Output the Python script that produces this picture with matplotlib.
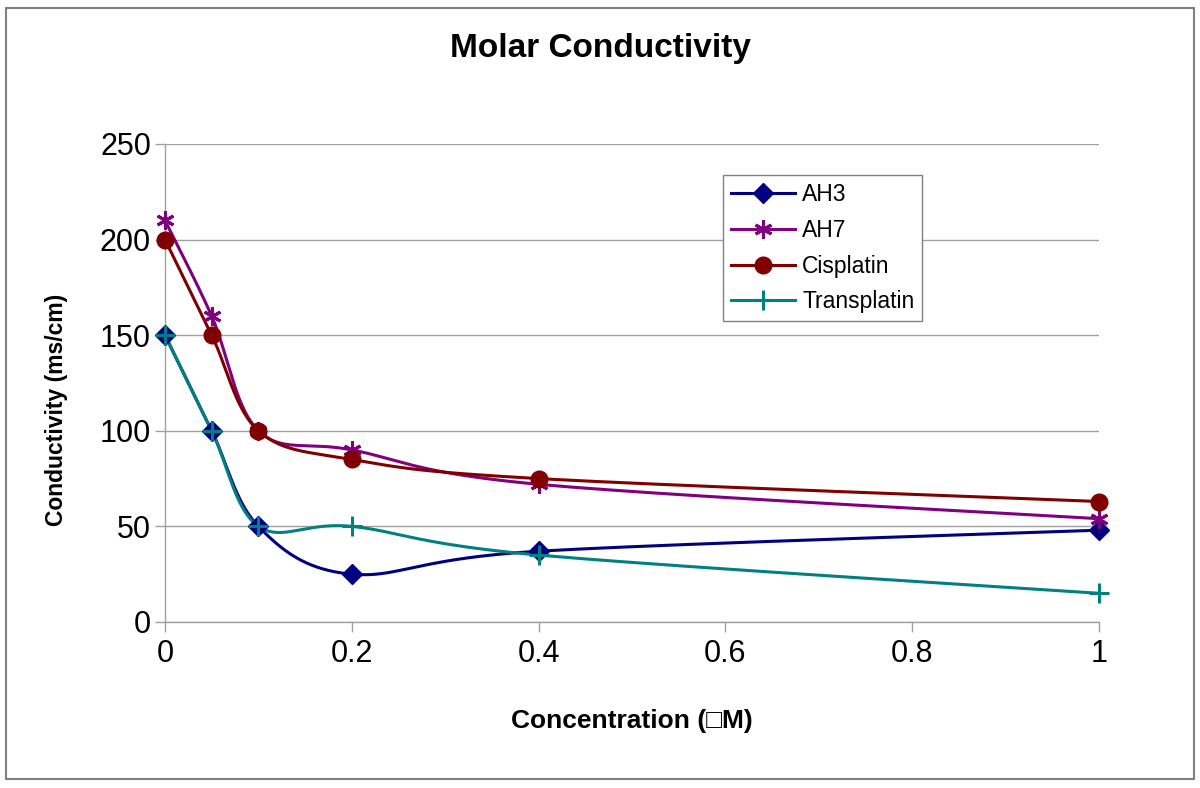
import numpy as np
import matplotlib
matplotlib.use("Agg")
from matplotlib import pyplot as plt
from matplotlib.patches import Rectangle

plt.rcParams['font.family'] = ['Liberation Sans', 'DejaVu Sans']

concentration = [0, 0.05, 0.1, 0.2, 0.4, 1]
ah3 = [150, 100, 50, 25, 37, 48]
ah7 = [210, 160, 100, 90, 72, 54]
cisplatin = [200, 150, 100, 85, 75, 63]
transplatin = [150, 100, 50, 50, 35, 15]

x_ticks = [0, 0.2, 0.4, 0.6, 0.8, 1]
x_tick_labels = ['0', '0.2', '0.4', '0.6', '0.8', '1']
y_ticks = [0, 50, 100, 150, 200, 250]


def smooth(xs, ys, n=40):
    # Excel-like smoothed line: cubic bezier with catmull-rom control points
    p = np.column_stack([xs, ys]).astype(float)
    p = np.vstack([p[0], p, p[-1]])
    out = []
    t = np.linspace(0, 1, n)[:, None]
    for i in range(1, len(p) - 2):
        p0, p3 = p[i], p[i + 1]
        c1 = p0 + (p[i + 1] - p[i - 1]) / 6
        c2 = p3 - (p[i + 2] - p[i]) / 6
        seg = ((1 - t) ** 3) * p0 + 3 * ((1 - t) ** 2) * t * c1 + 3 * (1 - t) * t ** 2 * c2 + t ** 3 * p3
        out.append(seg if i == 1 else seg[1:])
    out = np.vstack(out)
    return out[:, 0], out[:, 1]


series = [
    ('AH3', ah3, '#000080', 'D', 10),
    ('AH7', ah7, '#800080', (6, 2, 0), 13),
    ('Cisplatin', cisplatin, '#800000', 'o', 12),
    ('Transplatin', transplatin, '#008080', '+', 14),
]

fig = plt.figure(figsize=(12, 7.88), dpi=100)
ax = fig.add_axes([0.1375, 0.2107, 0.7783, 0.6066])

for name, vals, col, mk, ms in series:
    mew = 2.2 if mk in ('+', (6, 2, 0)) else 1
    sx, sy = smooth(concentration, vals)
    ax.plot(sx, sy, color=col, lw=2.2, zorder=3, clip_on=False)
    ax.plot(concentration, vals, linestyle='none', marker=mk, color=col,
            markersize=ms, markeredgewidth=mew, zorder=4, clip_on=False)
    ax.plot([], [], color=col, lw=2.2, marker=mk, markersize=ms,
            markeredgewidth=mew, label=name)

ax.set_xlim(0, 1)
ax.set_ylim(0, 250)
ax.set_xticks(x_ticks)
ax.set_xticklabels(x_tick_labels)
ax.set_yticks(y_ticks)
ax.yaxis.grid(True, color='#a0a0a0', lw=1)
ax.set_axisbelow(True)
for s in ['top', 'right']:
    ax.spines[s].set_visible(False)
for s in ['left', 'bottom']:
    ax.spines[s].set_color('#a0a0a0')
    ax.spines[s].set_linewidth(1)
ax.tick_params(axis='both', colors='#a0a0a0', labelcolor='black', labelsize=22,
               length=7, width=1)
ax.tick_params(axis='x', pad=5)
ax.tick_params(axis='y', pad=3)

ax.set_xlabel('Concentration (\u25a1M)', fontsize=19, fontweight='bold')
ax.xaxis.set_label_coords(0.5, -0.183)
ax.set_ylabel('Conductivity (ms/cm)', fontsize=16.5, fontweight='bold')
ax.yaxis.set_label_coords(-0.104, 0.4435)
fig.text(0.5, 0.938, 'Molar Conductivity', fontsize=24, fontweight='bold',
         ha='center', va='center')

leg = fig.legend(loc='upper left', bbox_to_anchor=(0.593, 0.792), fontsize=16.5,
                 fancybox=False, framealpha=1, edgecolor='#808080',
                 handlelength=2.8, borderpad=0.35, labelspacing=0.55, handletextpad=0.3)
leg.get_frame().set_linewidth(1)

fig.patches.append(Rectangle((0.005, 0.012), 0.99, 0.978, transform=fig.transFigure,
                             fill=False, edgecolor='#808080', lw=1.5))

fig.savefig('out.png', dpi=100)
